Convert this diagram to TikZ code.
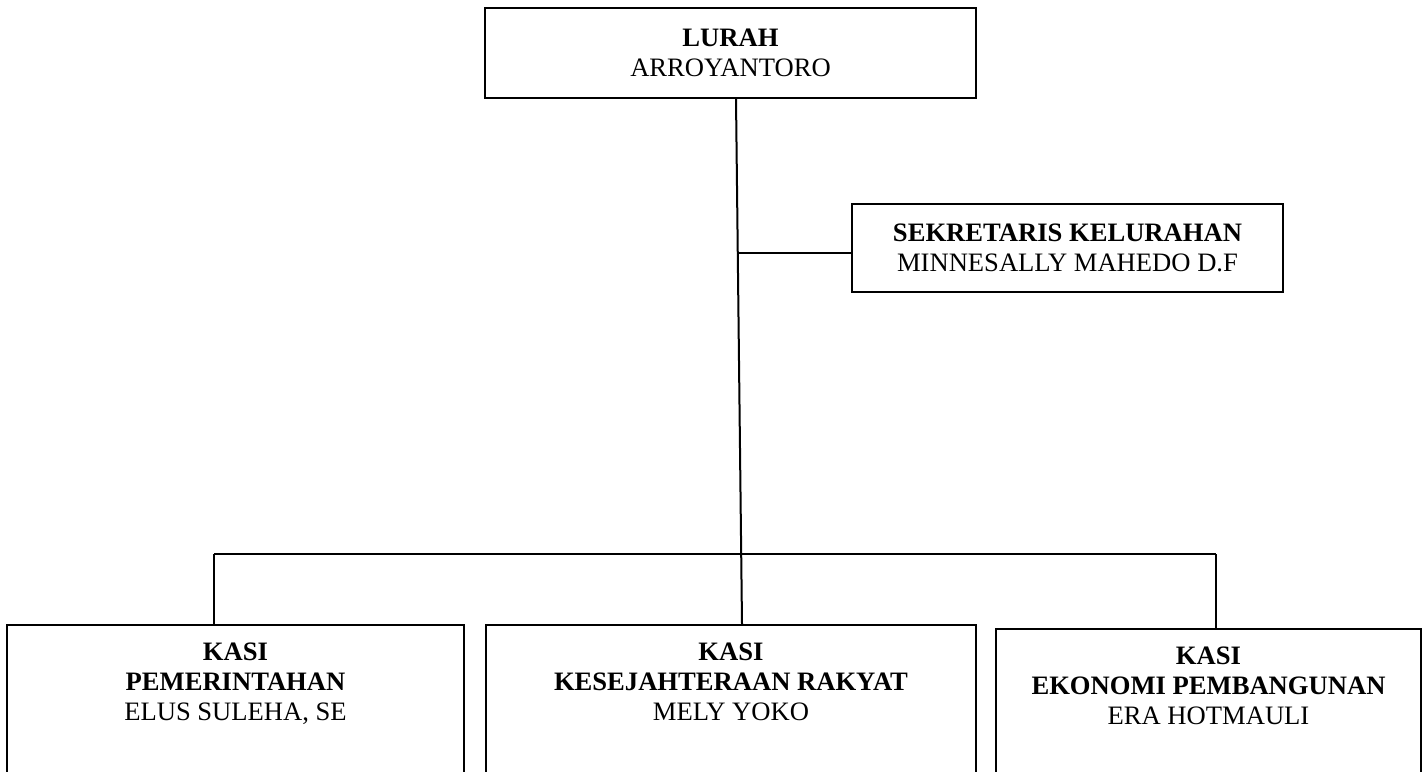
\documentclass[tikz,border=0pt]{standalone}
\usepackage{fontspec}
\setmainfont{Liberation Serif}
\usetikzlibrary{positioning}

\begin{document}
\begin{tikzpicture}[x=0.5pt, y=-0.5pt, line width=1pt, node distance=10pt,
        kotak/.style={draw, rectangle, align=center, inner sep=0pt, font=\fontsize{13.3}{15}\selectfont},
        kasi/.style={kotak, anchor=north, inner ysep=9pt, text depth=120pt}]
        \useasboundingbox (0,0) rectangle (1424,771);

        \node[kotak, minimum width=245.5pt, minimum height=45pt] (lurah) at (730.5,53) {\textbf{LURAH}\\ARROYANTORO};
        \node[kotak, minimum width=215.5pt, minimum height=44pt, on grid] (sekre) [below right=97.5pt and 168.5pt of lurah] {\textbf{SEKRETARIS KELURAHAN}\\MINNESALLY MAHEDO D.F};

        \node[kasi, minimum width=228.5pt] (kasi1) at (235.5,624) {\textbf{KASI}\\\textbf{PEMERINTAHAN}\\ELUS SULEHA, SE};
        \node[kasi, minimum width=245pt] (kasi2) [right=10pt of kasi1] {\textbf{KASI}\\\textbf{KESEJAHTERAAN RAKYAT}\\MELY YOKO};
        \node[kasi, minimum width=212.5pt] (kasi3) [right=9pt of kasi2, yshift=-2pt] {\textbf{KASI}\\\textbf{EKONOMI PEMBANGUNAN}\\ERA HOTMAULI};

        \coordinate (cab) at (738,253);
        \coordinate (kiri) at (214,554);
        \coordinate (kanan) at (1216,554);

        \path
        ([xshift=2.75pt]lurah.south) edge ([xshift=5.5pt]kasi2.north)
        (cab) edge (cab -| sekre.west)
        (kasi1.north -| kiri) edge (kiri)
        (kiri) edge (kanan)
        (kanan) edge (kanan |- kasi3.north);

\end{tikzpicture}
\end{document}
